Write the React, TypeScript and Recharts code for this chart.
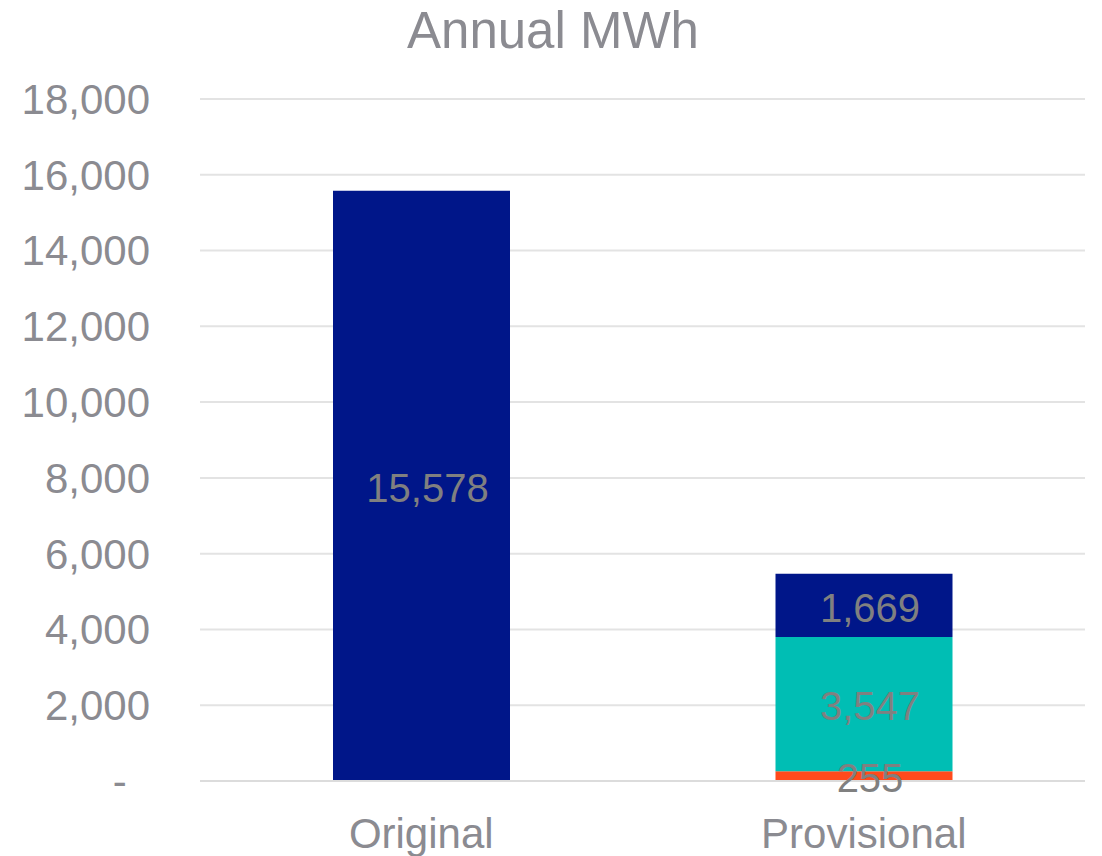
// Annual MWh: original vs provisional, stacked bar (Recharts).

import { Bar, BarChart, CartesianGrid, LabelList, XAxis, YAxis } from 'recharts'

const categories = ['Original', 'Provisional']
const otherMwh = [null, 255]
const tealMwh = [null, 3547]
const navyMwh = [15578, 1669]
const yTicks = [0, 2000, 4000, 6000, 8000, 10000, 12000, 14000, 16000, 18000]

const data = categories.map((name, i) => ({
  name,
  other: otherMwh[i],
  teal: tealMwh[i],
  navy: navyMwh[i],
}))

const FONT = '"Liberation Sans", Arial, sans-serif'
const TICK_GREY = '#8b8b91'
const LABEL_GREY = '#808080'

const fmtTick = (v: number) => (v === 0 ? '-\u00A0\u00A0' : v.toLocaleString('en-US'))
const fmtLabel = (v: unknown) =>
  v == null || v === 0 ? '' : Number(v).toLocaleString('en-US')

const labelStyle = { fill: LABEL_GREY, fontSize: 40, fontFamily: FONT }

export default function App() {
  return (
    <div
      style={{
        position: 'absolute',
        left: 0,
        top: 0,
        width: 1102,
        height: 856,
        background: '#fff',
        fontFamily: FONT,
      }}
    >
      <div
        style={{
          position: 'absolute',
          top: 6,
          left: 0,
          width: 1106,
          textAlign: 'center',
          fontSize: 51,
          lineHeight: '50px',
          color: TICK_GREY,
        }}
      >
        Annual MWh
      </div>
      <BarChart
        width={1102}
        height={856}
        data={data}
        margin={{ top: 99, right: 17, bottom: 0, left: 0 }}
        barSize={177}
      >
        <CartesianGrid vertical={false} stroke="#e3e3e3" strokeWidth={2} />
        <XAxis
          dataKey="name"
          height={75}
          tickLine={false}
          axisLine={{ stroke: '#dcdcdc', strokeWidth: 2 }}
          tickMargin={31}
          tick={{ fill: TICK_GREY, fontSize: 42, fontFamily: FONT }}
        />
        <YAxis
          width={200}
          domain={[0, 18000]}
          ticks={yTicks}
          interval={0}
          tickLine={false}
          axisLine={false}
          tickMargin={44}
          tickFormatter={fmtTick}
          tick={{ fill: TICK_GREY, fontSize: 42, fontFamily: FONT }}
        />
        <Bar dataKey="other" stackId="a" fill="#ff4a1c" isAnimationActive={false}>
          <LabelList dataKey="other" position="center" formatter={fmtLabel} dx={6} dy={2} style={labelStyle} />
        </Bar>
        <Bar dataKey="teal" stackId="a" fill="#00beb4" isAnimationActive={false}>
          <LabelList dataKey="teal" position="center" formatter={fmtLabel} dx={6} dy={2} style={labelStyle} />
        </Bar>
        <Bar dataKey="navy" stackId="a" fill="#001689" isAnimationActive={false}>
          <LabelList dataKey="navy" position="center" formatter={fmtLabel} dx={6} dy={2} style={labelStyle} />
        </Bar>
      </BarChart>
    </div>
  )
}
